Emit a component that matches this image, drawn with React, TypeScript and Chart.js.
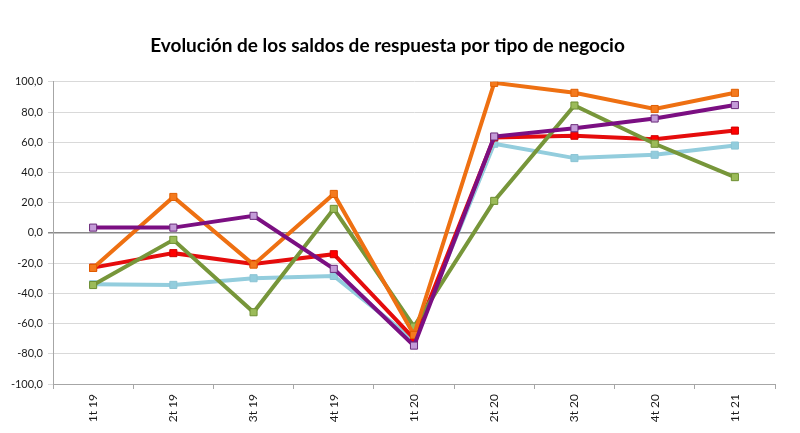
import React, { useEffect, useRef } from "react";
import { Chart, registerables } from "chart.js";

Chart.register(...registerables);

const categories = ["1t 19", "2t 19", "3t 19", "4t 19", "1t 20", "2t 20", "3t 20", "4t 20", "1t 21"];
const seriesLightBlue = [-34, -34.4, -30, -28.5, -71, 59, 49.5, 51.7, 57.8];
const seriesRed = [-23, -13.4, -20.5, -14.1, -70, 63.2, 64.3, 62, 67.7];
const seriesGreen = [-34.5, -4.6, -52.5, 15.9, -62, 21.2, 84.3, 59, 36.9];
const seriesOrange = [-23.2, 23.8, -21, 25.8, -67.5, 99.3, 92.7, 82, 92.7];
const seriesPurple = [3.5, 3.5, 11.3, -23.8, -74.6, 63.8, 69.3, 75.7, 84.6];
const title = "Evolución de los saldos de respuesta por tipo de negocio";

export default function App() {
  const ref = useRef<HTMLCanvasElement>(null);
  useEffect(() => {
    document.body.style.margin = "0";
    const mk = (label: string, data: number[], line: string, fill: string, border: string) => ({
      label,
      data,
      borderColor: line,
      backgroundColor: fill,
      borderWidth: 4,
      pointStyle: "rect",
      pointRadius: 5,
      pointHoverRadius: 5,
      pointBackgroundColor: fill,
      pointBorderColor: border,
      pointBorderWidth: 1,
      tension: 0,
    });
    const chart = new Chart(ref.current!, {
      type: "line",
      data: {
        labels: categories,
        datasets: [
          mk("Purple", seriesPurple, "#7B0F82", "#C49BD8", "#6A2C7A"),
          mk("Orange", seriesOrange, "#EE7012", "#F47A1E", "#E05E00"),
          mk("Green", seriesGreen, "#77963A", "#9BBB59", "#6E8F33"),
          mk("Red", seriesRed, "#E50C0C", "#FF0000", "#D00000"),
          mk("LightBlue", seriesLightBlue, "#93CDDD", "#93CDDD", "#8CC4D4"),
        ],
      },
      options: {
        responsive: false,
        animation: false,
        layout: { padding: { left: 0, right: 25, top: 0, bottom: 0 } },
        plugins: {
          legend: { display: false },
          tooltip: { enabled: false },
          title: {
            display: true,
            text: title,
            color: "#000000",
            font: { family: "Lato", size: 19, weight: "bold" },
            padding: { top: 34, bottom: 25 },
          },
        },
        scales: {
          x: {
            offset: true,
            grid: {
              display: true,
              drawOnChartArea: false,
              drawTicks: true,
              tickLength: 5,
              offset: true,
              color: "#a6a6a6",
            },
            border: { display: true, color: "#a6a6a6", width: 1 },
            ticks: {
              minRotation: 90,
              maxRotation: 90,
              padding: 5,
              color: "#1a1a1a",
              font: { family: "Lato", size: 12 },
            },
            afterFit: (s: any) => {
              s.height = 49;
            },
          },
          y: {
            min: -100,
            max: 100,
            ticks: {
              stepSize: 20,
              padding: 5,
              color: "#1a1a1a",
              font: { family: "Lato", size: 11 },
              callback: (v: any) => Number(v).toFixed(1).replace(".", ","),
            },
            grid: {
              tickLength: 5,
              color: (c: any) => (c.tick && c.tick.value === 0 ? "#8a8a8a" : "#d9d9d9"),
              lineWidth: (c: any) => (c.tick && c.tick.value === 0 ? 1.5 : 1),
            },
            border: { display: true, color: "#a6a6a6", width: 1 },
            afterFit: (s: any) => {
              s.width = 53;
            },
          },
        },
      },
    } as any);
    return () => chart.destroy();
  }, []);
  return (
    <div style={{ position: "absolute", left: 0, top: 0, width: 800, height: 433, background: "#fff" }}>
      <canvas ref={ref} width={800} height={433} />
    </div>
  );
}
